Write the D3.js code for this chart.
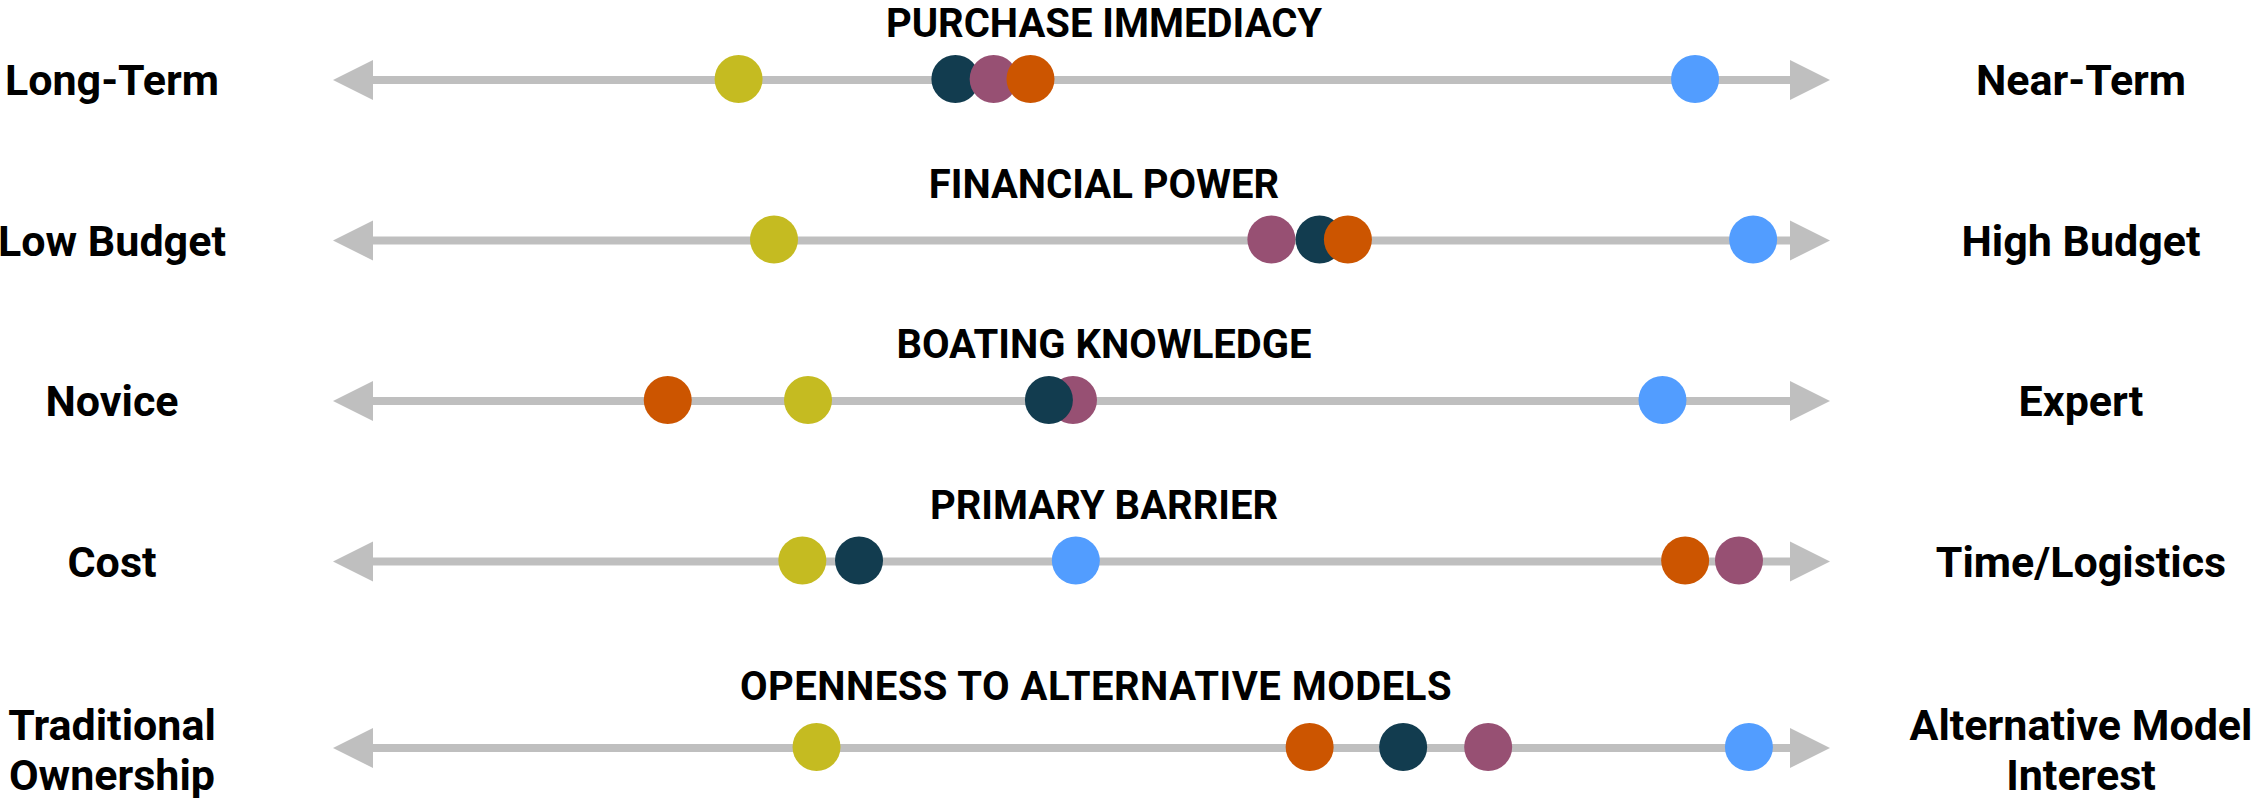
<!doctype html>
<meta charset="utf-8">
<style>
body { margin: 0; background: #fff; }
text { font-family: Roboto, "Noto Sans", sans-serif; font-weight: 700; fill: #000; }
</style>
<body>
<div id="viz"></div>
<script src="https://cdn.jsdelivr.net/npm/d3@7"></script>
<script>
// dimensions (rows) and their pole labels
var dimensions = ["PURCHASE IMMEDIACY", "FINANCIAL POWER", "BOATING KNOWLEDGE", "PRIMARY BARRIER", "OPENNESS TO ALTERNATIVE MODELS"];
var leftLabels = [["Long-Term"], ["Low Budget"], ["Novice"], ["Cost"], ["Traditional", "Ownership"]];
var rightLabels = [["Near-Term"], ["High Budget"], ["Expert"], ["Time/Logistics"], ["Alternative Model", "Interest"]];

// segment scores on a 0-100 scale, one per dimension
var segments = ["yellow", "navy", "purple", "orange", "blue"];
var segmentColors = ["#c5bb21", "#123c4f", "#975073", "#cc5500", "#529dff"];
var yellowValues = [25.8, 28.3, 30.7, 30.3, 31.3];
var navyValues   = [41.1, 66.8, 47.7, 34.3, 72.7];
var purpleValues = [43.8, 63.4, 49.4, 96.4, 78.7];
var orangeValues = [46.4, 68.8, 20.8, 92.6, 66.1];
var blueValues   = [93.3, 97.4, 91.0, 49.6, 97.1];

// stacking order of the dots in each row (last on top)
var layerOrder = [
    ["yellow", "blue", "navy", "purple", "orange"],
    ["yellow", "blue", "purple", "navy", "orange"],
    ["yellow", "blue", "purple", "navy", "orange"],
    ["yellow", "blue", "purple", "navy", "orange"],
    ["yellow", "blue", "purple", "navy", "orange"]
];

var values = {yellow: yellowValues, navy: navyValues, purple: purpleValues, orange: orangeValues, blue: blueValues};
var color = d3.scaleOrdinal().domain(segments).range(segmentColors);

var width = 2251, height = 798;
var x = d3.scaleLinear().domain([0, 100]).range([373, 1790]);
var row = d3.scalePoint().domain(dimensions).range([80, 722]);
var lineY = function(d, i) { return row(d) + (leftLabels[i].length > 1 ? 26 : 0); };

var svg = d3.select("#viz").append("svg").attr("width", width).attr("height", height);

var rows = svg.selectAll("g.row").data(dimensions).enter().append("g")
    .attr("class", "row")
    .attr("transform", function(d, i) { return "translate(0," + lineY(d, i) + ")"; });

// axis line with arrow heads
rows.append("line")
    .attr("x1", x(0)).attr("x2", x(100))
    .attr("stroke", "#bfbfbf").attr("stroke-width", 8);
rows.append("path")
    .attr("fill", "#bfbfbf")
    .attr("d", "M" + x(0) + ",-20L" + (x(0) - 40) + ",0L" + x(0) + ",20Z");
rows.append("path")
    .attr("fill", "#bfbfbf")
    .attr("d", "M" + x(100) + ",-20L" + (x(100) + 40) + ",0L" + x(100) + ",20Z");

// row titles
rows.append("text")
    .attr("x", function(d, i) { return leftLabels[i].length > 1 ? 1096 : 1104; })
    .attr("y", function(d, i) { return leftLabels[i].length > 1 ? -48 : -43; })
    .attr("text-anchor", "middle")
    .style("font-size", "40px")
    .style("letter-spacing", function(d, i) { return leftLabels[i].length > 1 ? "0.5px" : null; })
    .text(function(d) { return d; });

// pole labels
function poleLabel(sel, labels, cx) {
    sel.append("text")
        .attr("text-anchor", "middle")
        .style("font-size", "43px")
        .each(function(d, i) {
            var lines = labels[i];
            var t = d3.select(this);
            lines.forEach(function(l, k) {
                t.append("tspan")
                    .attr("x", cx)
                    .attr("y", 15 + (lines.length - 1) * 2 + (k - (lines.length - 1) / 2) * 50)
                    .text(l);
            });
        });
}
poleLabel(rows, leftLabels, 112);
poleLabel(rows, rightLabels, 2081);

// segment dots
rows.selectAll("circle")
    .data(function(d, i) {
        return layerOrder[i].map(function(s) { return {seg: s, v: values[s][i]}; });
    })
    .enter().append("circle")
    .attr("cx", function(d) { return x(d.v); })
    .attr("cy", -1)
    .attr("r", 24)
    .attr("fill", function(d) { return color(d.seg); });
</script>
</body>
